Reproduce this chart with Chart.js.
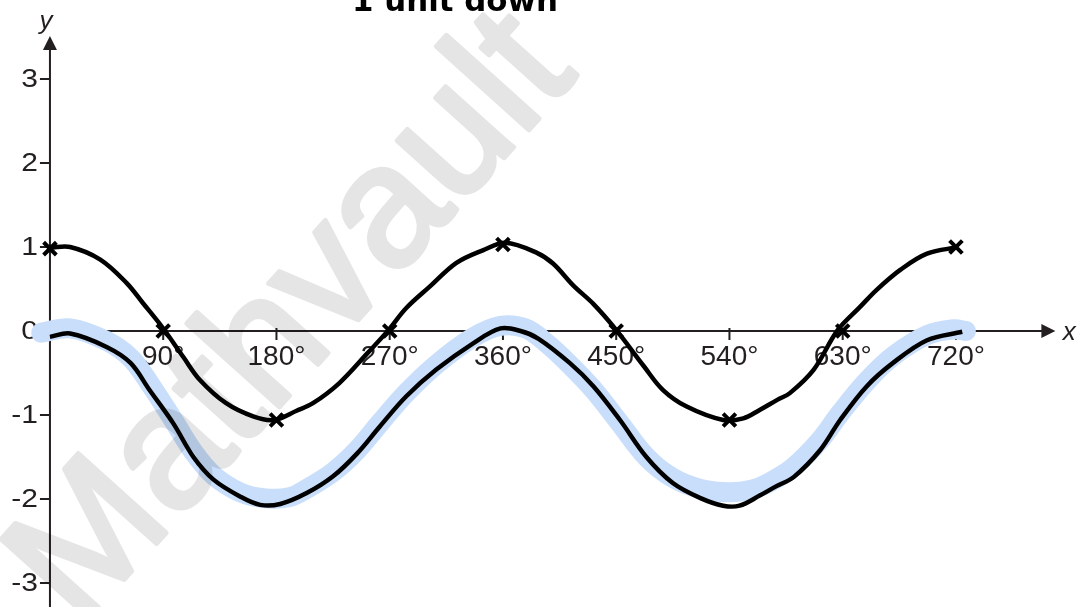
<!DOCTYPE html>
<html>
<head>
<meta charset="utf-8">
<script src="https://cdn.jsdelivr.net/npm/chart.js@4"></script>
<style>
  body { margin: 0; background: #fff; }
  #wrap { width: 1077px; height: 607px; }
</style>
</head>
<body>
<div id="wrap"><canvas id="waveChart" width="1077" height="607"></canvas></div>
<script>
// y = cos x (hand drawn), degrees
const cosX = [0, 16, 40, 61, 74, 89, 106, 119, 140, 162, 178, 196, 209, 230, 252, 269, 283, 302, 323, 344, 362, 387, 400, 416, 432, 449, 472, 487, 506, 535, 551, 564, 578, 588, 607, 626, 644, 657, 676, 697, 722];
const cosY = [0.99, 1.0, 0.85, 0.57, 0.33, 0.05, -0.31, -0.58, -0.86, -1.02, -1.06, -0.95, -0.86, -0.62, -0.27, 0.01, 0.27, 0.53, 0.81, 0.96, 1.05, 0.93, 0.80, 0.54, 0.32, 0.03, -0.42, -0.70, -0.90, -1.06, -1.04, -0.94, -0.82, -0.74, -0.46, 0.01, 0.29, 0.49, 0.73, 0.92, 1.0];

// y = cos x - 1 (1 unit down)
const downX = [0, 16, 45, 64, 79, 98, 114, 130, 151, 167, 183, 204, 225, 244, 262, 283, 307, 336, 358, 374, 388, 413, 432, 453, 474, 495, 517, 535, 548, 564, 577, 591, 612, 628, 649, 670, 697, 725];
const downY = [-0.07, -0.03, -0.19, -0.38, -0.70, -1.10, -1.50, -1.77, -1.97, -2.07, -2.06, -1.93, -1.73, -1.46, -1.14, -0.78, -0.46, -0.15, 0.03, 0.0, -0.09, -0.38, -0.66, -1.06, -1.50, -1.81, -1.99, -2.08, -2.08, -1.96, -1.85, -1.74, -1.42, -1.06, -0.66, -0.38, -0.11, -0.01];

// highlighter stroke behind the shifted curve
const markX = [-7, 16, 45, 64, 79, 98, 114, 130, 151, 170, 190, 204, 225, 244, 262, 283, 307, 336, 358, 378, 395, 413, 432, 453, 474, 495, 517, 540, 560, 577, 591, 612, 628, 649, 670, 697, 718, 728];
const markY = [-0.02, 0.03, -0.12, -0.32, -0.62, -1.06, -1.44, -1.72, -1.92, -1.99, -1.98, -1.88, -1.68, -1.42, -1.10, -0.74, -0.40, -0.08, 0.06, 0.03, -0.15, -0.40, -0.70, -1.10, -1.50, -1.75, -1.88, -1.92, -1.88, -1.76, -1.62, -1.30, -0.98, -0.60, -0.30, -0.05, 0.02, 0.0];

// crosses on y = cos x
const crossX = [0, 90, 180, 270, 360, 450, 540, 630, 720];
const crossY = [0.98, 0.0, -1.06, 0.0, 1.03, 0.0, -1.06, 0.0, 1.0];

const xTicks = [90, 180, 270, 360, 450, 540, 630, 720];
const xTickLabels = ['90°', '180°', '270°', '360°', '450°', '540°', '630°', '720°'];
const yTicks = [3, 2, 1, 0, -1, -2, -3];
const yTickLabels = ['3', '2', '1', '0', '-1', '-2', '-3'];

const toPts = (xs, ys) => xs.map((x, i) => ({ x: x, y: ys[i] }));

const axesPlugin = {
  id: 'axes',
  beforeDatasetsDraw(chart) {
    const ctx = chart.ctx;
    const sx = chart.scales.x, sy = chart.scales.y;
    const x0 = sx.getPixelForValue(0), y0 = sy.getPixelForValue(0);
    const yTop = sy.getPixelForValue(3.51);
    const xEnd = sx.getPixelForValue(799);
    ctx.save();
    ctx.strokeStyle = '#231f20';
    ctx.fillStyle = '#231f20';
    ctx.lineWidth = 2;
    ctx.beginPath();
    ctx.moveTo(x0, chart.height);
    ctx.lineTo(x0, yTop + 10);
    ctx.moveTo(x0, y0);
    ctx.lineTo(xEnd - 10, y0);
    ctx.stroke();
    // arrow heads
    ctx.beginPath();
    ctx.moveTo(x0, yTop);
    ctx.lineTo(x0 - 7, yTop + 14);
    ctx.lineTo(x0 + 7, yTop + 14);
    ctx.closePath();
    ctx.fill();
    ctx.beginPath();
    ctx.moveTo(xEnd, y0);
    ctx.lineTo(xEnd - 14, y0 - 7);
    ctx.lineTo(xEnd - 14, y0 + 7);
    ctx.closePath();
    ctx.fill();
    // ticks
    ctx.lineWidth = 2;
    ctx.beginPath();
    xTicks.forEach(v => {
      const px = sx.getPixelForValue(v);
      ctx.moveTo(px, y0 - 3);
      ctx.lineTo(px, y0 + 9);
    });
    yTicks.forEach(v => {
      if (v === 0) return;
      const py = sy.getPixelForValue(v);
      ctx.moveTo(x0 - 10, py);
      ctx.lineTo(x0, py);
    });
    ctx.stroke();
    // tick labels
    ctx.fillStyle = '#231f20';
    ctx.font = '28px "Liberation Sans", Arial, sans-serif';
    ctx.textAlign = 'center';
    ctx.textBaseline = 'top';
    xTicks.forEach((v, i) => {
      ctx.fillText(xTickLabels[i], sx.getPixelForValue(v), y0 + 12);
    });
    ctx.textAlign = 'right';
    ctx.textBaseline = 'middle';
    yTicks.forEach((v, i) => {
      const py = sy.getPixelForValue(v);
      ctx.save();
      ctx.translate(x0 - 12, py + 1);
      ctx.scale(1.2, 1);
      ctx.font = '25px "Liberation Sans", Arial, sans-serif';
      ctx.fillText(yTickLabels[i], 0, 0);
      ctx.restore();
    });
    // axis names
    ctx.font = 'italic 26px "Liberation Sans", Arial, sans-serif';
    ctx.textAlign = 'center';
    ctx.textBaseline = 'middle';
    ctx.fillText('y', x0 - 4, yTop - 14);
    ctx.fillText('x', xEnd + 14, y0 + 2);
    ctx.restore();
  },
  afterDatasetsDraw(chart) {
    const ctx = chart.ctx;
    // watermark: drawn opaque offscreen, laid over with low alpha
    const off = document.createElement('canvas');
    off.width = chart.width;
    off.height = chart.height;
    const oc = off.getContext('2d');
    oc.translate(294, 320);
    oc.rotate(-48 * Math.PI / 180);
    oc.fillStyle = '#000';
    oc.strokeStyle = '#000';
    oc.lineWidth = 5;
    oc.lineJoin = 'round';
    oc.font = '172px "Liberation Sans", Arial, sans-serif';
    oc.textAlign = 'center';
    oc.textBaseline = 'middle';
    oc.fillText('Mathvault', 0, 0);
    oc.strokeText('Mathvault', 0, 0);
    ctx.save();
    ctx.globalAlpha = 0.1;
    ctx.drawImage(off, 0, 0);
    ctx.restore();
    // handwritten note, cut by the top edge
    ctx.save();
    ctx.font = 'bold 30px "DejaVu Sans", sans-serif';
    const note = '1 unit down';
    const w = ctx.measureText(note).width;
    ctx.translate(352, 11);
    ctx.scale(206 / w, 1);
    ctx.fillStyle = '#000';
    ctx.textAlign = 'left';
    ctx.textBaseline = 'alphabetic';
    ctx.fillText(note, 0, 0);
    ctx.restore();
  }
};

new Chart(document.getElementById('waveChart'), {
  type: 'line',
  data: {
    datasets: [
      {
        label: 'crosses',
        data: toPts(crossX, crossY),
        showLine: false,
        pointStyle: 'crossRot',
        pointRadius: 9,
        pointBorderWidth: 4,
        pointBorderColor: '#000',
        order: 1
      },
      {
        label: 'y = cos x',
        data: toPts(cosX, cosY),
        borderColor: '#000',
        borderWidth: 4.5,
        pointRadius: 0,
        tension: 0.35,
        order: 2
      },
      {
        label: 'y = cos x - 1',
        data: toPts(downX, downY),
        borderColor: '#000',
        borderWidth: 4.5,
        pointRadius: 0,
        tension: 0.35,
        order: 2
      },
      {
        label: 'highlight',
        data: toPts(markX, markY),
        borderColor: 'rgb(201,222,250)',
        borderWidth: 20,
        borderCapStyle: 'round',
        borderJoinStyle: 'round',
        pointRadius: 0,
        tension: 0.35,
        order: 3
      }
    ]
  },
  options: {
    responsive: false,
    animation: false,
    devicePixelRatio: 1,
    layout: { padding: 0, autoPadding: false },
    plugins: { legend: { display: false }, tooltip: { enabled: false } },
    scales: {
      x: { type: 'linear', min: -39.7, max: 816.2, display: false },
      y: { type: 'linear', min: -3.286, max: 3.94, display: false }
    }
  },
  plugins: [axesPlugin]
});
</script>
</body>
</html>
